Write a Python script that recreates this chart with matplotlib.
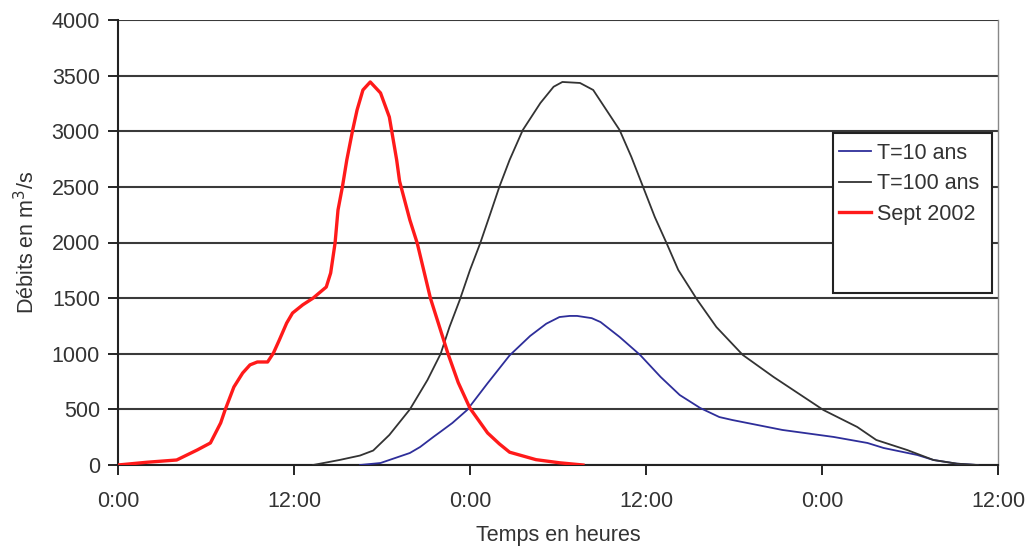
import matplotlib
matplotlib.use("Agg")
import matplotlib.pyplot as plt
from matplotlib.patches import Rectangle

# hours since start, discharge in m3/s
h_sept = [0, 2, 4.0, 5.4, 6.3, 7.0, 7.3, 7.9, 8.5, 9.0, 9.5, 10.2, 10.6, 11.0,
          11.5, 11.9, 12.6, 13.3, 14.2, 14.5, 14.8, 15.0, 15.3, 15.6, 16.0, 16.3,
          16.7, 17.2, 17.9, 18.5, 19.0, 19.2, 19.9, 20.4, 21.3, 22.5, 23.2, 24.0,
          25.2, 26.0, 26.7, 28.5, 30.1, 31.7]
q_sept = [0, 25, 45, 135, 198, 378, 494, 701, 827, 900, 926, 926, 1007, 1124,
          1276, 1366, 1440, 1500, 1600, 1726, 1995, 2292, 2500, 2742, 3011, 3191,
          3371, 3443, 3344, 3128, 2742, 2550, 2202, 1995, 1500, 1000, 740, 510,
          288, 190, 115, 48, 20, 0]

h_t100 = [13.3, 15.1, 16.5, 17.4, 18.5, 19.9, 21.1, 22.0, 22.6, 23.3, 24.0,
          24.7, 25.4, 26.0, 26.7, 27.6, 28.8, 29.7, 30.3, 31.5, 32.4, 33.3, 34.2,
          35.0, 35.8, 36.6, 37.4, 38.2, 39.5, 40.8, 42.6, 44.7, 48.1, 50.4, 51.7,
          53.8, 55.6, 57.2, 58.6]
q_t100 = [0, 45, 85, 130, 270, 500, 764, 1000, 1240, 1483, 1753,
          1995, 2265, 2500, 2742, 3011, 3254, 3400, 3443, 3434, 3371, 3191, 3011,
          2770, 2500, 2229, 1995, 1753, 1483, 1240, 989, 791, 494, 342, 225,
          135, 45, 12, 0]

h_t10 = [16.5, 17.9, 19.9, 20.6, 21.5, 22.0, 22.8, 23.8, 25.2, 26.7, 28.1, 28.8,
         29.2, 30.1, 30.8, 31.3, 32.3, 32.9, 34.2, 35.6, 37.0, 38.3, 39.7, 41.0,
         41.9, 45.3, 48.8, 51.1, 52.2, 54.5, 55.6, 57.2, 58.6]
q_t10 = [0, 18, 108, 162, 252, 300, 378, 494, 735, 985, 1160, 1230,
         1270, 1330, 1340, 1340, 1320, 1285, 1151, 989, 791, 629, 512, 431,
         404, 315, 252, 198, 153, 90, 45, 12, 0]

xticks = [0, 12, 24, 36, 48, 60]
xtick_labels = ["0:00", "12:00", "0:00", "12:00", "0:00", "12:00"]
yticks = list(range(0, 4001, 500))

plt.rcParams['font.family'] = ['Liberation Sans', 'DejaVu Sans']
txt = '#333333'
fs = 15.5

fig = plt.figure(figsize=(10.29, 5.49), dpi=100)
ax = fig.add_axes([118/1029, 1-465/549, 880/1029, 445/549])

ax.plot(h_t10, q_t10, color='#2e2e9a', lw=1.3, label='T=10 ans', zorder=3)
ax.plot(h_t100, q_t100, color='#333333', lw=1.3, label='T=100 ans', zorder=3)
ax.plot(h_sept, q_sept, color='#ff1a1a', lw=2.4, label='Sept 2002', zorder=4)

ax.set_xlim(0, 60)
ax.set_ylim(0, 4000)
ax.set_xticks(xticks)
ax.set_xticklabels(xtick_labels)
ax.set_yticks(yticks)
ax.grid(axis='y', color='#3a3a3a', lw=1.5)
ax.set_axisbelow(True)

ax.tick_params(axis='x', length=7, width=1.2, pad=12, labelsize=fs, labelcolor=txt)
ax.tick_params(axis='y', length=7, width=1.2, pad=6, labelsize=fs, labelcolor=txt)
for s in ['left', 'bottom']:
    ax.spines[s].set_color('#222222')
    ax.spines[s].set_linewidth(1.5)
ax.spines['top'].set_visible(False)
ax.spines['right'].set_color('#888888')
ax.spines['right'].set_linewidth(1.0)

ax.set_xlabel('Temps en heures', fontsize=fs, color=txt, labelpad=9)
ax.set_ylabel('Débits en m$^3$/s', fontsize=fs, color=txt, labelpad=9)

# legend box is taller than its entries in the original
fig.patches.append(Rectangle((833/1029, 1-293/549), 159/1029, 160/549,
                             transform=fig.transFigure, fill=True,
                             facecolor='white', edgecolor='#222222', lw=1.5, zorder=5))
leg = fig.legend(loc='upper left', bbox_to_anchor=(830/1029, 1-134/549),
                 frameon=False, fontsize=fs, handlelength=1.5, handletextpad=0.3,
                 labelspacing=0.45, borderaxespad=0)
for t in leg.get_texts():
    t.set_color(txt)
leg.set_zorder(6)

fig.savefig('out.png', dpi=100)
